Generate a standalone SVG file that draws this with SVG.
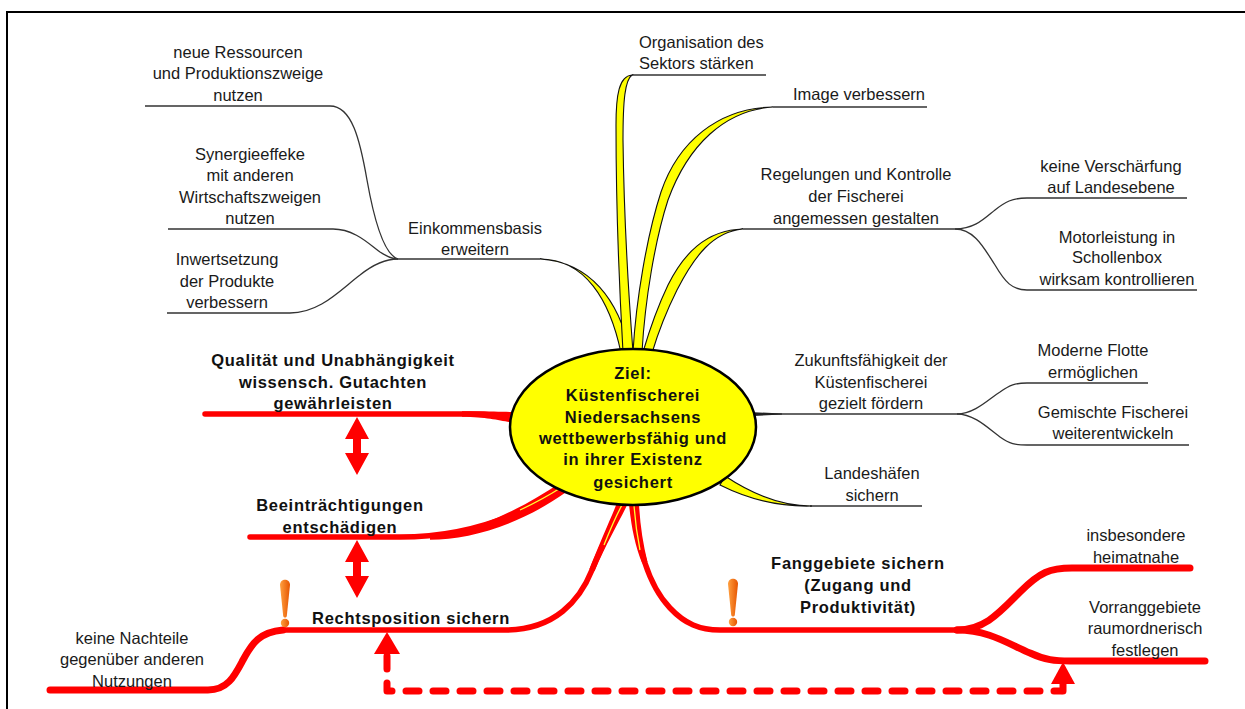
<svg xmlns="http://www.w3.org/2000/svg" width="1245" height="709" viewBox="0 0 1245 709">
<style>
.t{font-family:"Liberation Sans",Arial,sans-serif;font-size:16.5px;fill:#1a1a1a;text-anchor:middle}
.s{text-anchor:start}
.b{font-family:"Liberation Sans",Arial,sans-serif;font-size:16.5px;font-weight:bold;fill:#111;text-anchor:middle;letter-spacing:0.7px}
.ln{fill:none;stroke:#333;stroke-width:1.3}
.leaf{fill:#FFFF00;stroke:#111;stroke-width:1.1}
.red{fill:none;stroke:#FF0000;stroke-width:5.5;stroke-linecap:round;stroke-linejoin:round}
.redk{fill:none;stroke:#FF0000;stroke-width:7;stroke-linecap:round;stroke-linejoin:round}
.tap{fill:#FF0000}
.ys{fill:none;stroke:#FFFF33;stroke-width:1.3}
</style>
<defs>
<linearGradient id="og" x1="0" y1="0" x2="1" y2="0">
<stop offset="0" stop-color="#FFA040"/>
<stop offset="1" stop-color="#E65500"/>
</linearGradient>
<path id="dbl" d="M0,0 L12,22 L4,22 L4,36 L12,36 L0,58 L-12,36 L-4,36 L-4,22 L-12,22 Z" fill="#FF0000"/>
<g id="excl">
<path d="M-5,4 C-5,-3 5,-3 5,4 L1.8,35 C1.2,37 -1.2,37 -1.8,35 Z" fill="url(#og)"/>
<circle cx="0" cy="42" r="4.2" fill="url(#og)"/>
</g>
</defs>
<rect x="7" y="12" width="1250" height="720" fill="#fff" stroke="#000" stroke-width="2"/>

<g id="connectors">
<path class="ln" d="M145,106 L330,106 C352,106 360,140 367,180 C375,225 385,255 398,259"/>
<path class="ln" d="M168,229 L333,229 C355,229 370,245 380,252 C388,257 392,259 398,259"/>
<path class="ln" d="M167,313 L290,313 C320,313 340,290 360,275 C375,263 388,259 398,259"/>
<path class="ln" d="M398,259 L540,259"/>
<path class="ln" d="M632,75 L766,75"/>
<path class="ln" d="M773,107 L927,107"/>
<path class="ln" d="M743,229 L955,229"/>
<path class="ln" d="M955,229 C975,229 985,218 995,210 C1005,202 1012,198 1027,198 L1187,198"/>
<path class="ln" d="M955,229 C975,229 985,250 995,265 C1005,282 1012,290 1027,290 L1197,290"/>
<path class="ln" d="M756,414 L957,414"/>
<path d="M754,412.3 L782,413.4 L782,414.6 L754,416 Z" fill="#222"/>
<path class="ln" d="M957,414 C975,414 990,398 1000,392 C1010,385 1015,383 1027,383 L1148,383"/>
<path class="ln" d="M957,414 C975,414 990,430 1000,437 C1010,444 1015,445 1027,445 L1189,445"/>
<path class="ln" d="M810,506 L922,506"/>
<path class="leaf" d="M540,259 C585,259 610,300 621,353 L630,352 C619,300 590,262 540,259 Z"/>
<path class="leaf" d="M632,75 C619,76 616,95 616,125 C616,220 620,300 623,352 L633,352 C629,300 624,220 623,140 C623,100 625,80 632,75 Z"/>
<path class="leaf" d="M773,107 C718,108 678,142 661,192 C647,235 636,300 633,352 L642,352 C645,300 655,240 668,200 C688,145 725,110 773,107 Z"/>
<path class="leaf" d="M743,229 C705,230 683,255 668,285 C656,310 648,335 643,352 L652,353 C658,333 667,310 677,290 C695,255 713,232 743,229 Z"/>
<path class="leaf" d="M812,506 C780,506 752,494 725,476 L720,485 C748,499 778,507 812,506 Z"/>
<path class="red" d="M205,414 L470,414 C490,414 500,416 514,418"/>
<path class="tap" d="M462,411.3 C490,411 502,412 516,412 L516,423 C500,421 490,417 462,416.7 Z"/>
<path class="red" d="M250,537 L400,537 C460,537 515,520 564,487"/>
<path class="tap" d="M430,534.3 C465,534 510,516 561,482.4 L567,491.6 C520,525 470,539.7 430,539.7 Z"/>
<path class="ys" d="M520,510 C535,503 548,496 562,487"/>
<path class="red" d="M283,630 L505,630 C555,630 580,600 592,570 C603,543 615,520 622,504"/>
<path class="tap" d="M589.4,569 C600,542 611,518 617.4,502 L626.6,506 C619,522 606,544 594.6,571 Z"/>
<path class="ys" d="M604,545 C610,530 616,516 622,505"/>
<path class="red" d="M634,504 C637,545 648,585 670,608 C685,624 700,630 720,630 L957,630"/>
<path class="tap" d="M629,504 C631,525 635,546 642.3,563.6 L647.5,561.9 C643,544 640,524 639,504 Z"/>
<path class="ys" d="M634,505 C635,520 637,535 640,550"/>
<path class="redk" d="M957,630 C985,630 1000,612 1020,592 C1040,572 1050,568 1072,568 L1190,568"/>
<path class="redk" d="M957,630 C990,630 1010,645 1030,653 C1045,660 1055,661 1070,661 L1205,661"/>
<path class="redk" d="M50,690 L208,690 C228,690 235,675 243,660 C252,643 260,632 283,630"/>
<use href="#dbl" x="357" y="417"/>
<use href="#dbl" x="357" y="540"/>
<path d="M387,656 L387,691 L1061,691" fill="none" stroke="#FF0000" stroke-width="7" stroke-linecap="round" stroke-linejoin="round" stroke-dasharray="13 14"/>
<path d="M387,632 L400,654 L374,654 Z" fill="#FF0000"/>
<path d="M1063,662 L1075,684 L1051,684 Z" fill="#FF0000"/>
<path d="M1063,682 L1063,691" stroke="#FF0000" stroke-width="7" stroke-linecap="round"/>
<use href="#excl" x="285" y="581"/>
<use href="#excl" x="733" y="580"/>
</g>

<g id="center">
<ellipse cx="633" cy="427" rx="123" ry="78" fill="#FFFF00" stroke="#000" stroke-width="2.5"/>
<text class="b" x="633" y="379">Ziel:</text>
<text class="b" x="633" y="401">Küstenfischerei</text>
<text class="b" x="633" y="423">Niedersachsens</text>
<text class="b" x="633" y="444">wettbewerbsfähig und</text>
<text class="b" x="633" y="465">in ihrer Existenz</text>
<text class="b" x="633" y="488">gesichert</text>
</g>

<g id="n-ressourcen"><text class="t" x="238" y="58">neue Ressourcen</text><text class="t" x="238" y="79">und Produktionszweige</text><text class="t" x="238" y="101">nutzen</text></g>
<g id="n-synergie"><text class="t" x="250" y="160">Synergieeffeke</text><text class="t" x="250" y="181">mit anderen</text><text class="t" x="250" y="203">Wirtschaftszweigen</text><text class="t" x="250" y="224">nutzen</text></g>
<g id="n-inwert"><text class="t" x="227" y="265">Inwertsetzung</text><text class="t" x="227" y="287">der Produkte</text><text class="t" x="227" y="308">verbessern</text></g>
<g id="n-einkommen"><text class="t" x="475" y="234">Einkommensbasis</text><text class="t" x="475" y="255">erweitern</text></g>
<g id="n-organisation"><text class="t s" x="639" y="48">Organisation des</text><text class="t s" x="639" y="69">Sektors stärken</text></g>
<g id="n-image"><text class="t" x="859" y="100">Image verbessern</text></g>
<g id="n-regelungen"><text class="t" x="856" y="180">Regelungen und Kontrolle</text><text class="t" x="856" y="202">der Fischerei</text><text class="t" x="856" y="224">angemessen gestalten</text></g>
<g id="n-verschaerfung"><text class="t" x="1111" y="172">keine Verschärfung</text><text class="t" x="1111" y="193">auf Landesebene</text></g>
<g id="n-motor"><text class="t" x="1117" y="243">Motorleistung in</text><text class="t" x="1117" y="263">Schollenbox</text><text class="t" x="1117" y="285">wirksam kontrollieren</text></g>
<g id="n-zukunft"><text class="t" x="871" y="366">Zukunftsfähigkeit der</text><text class="t" x="871" y="388">Küstenfischerei</text><text class="t" x="871" y="409">gezielt fördern</text></g>
<g id="n-flotte"><text class="t" x="1093" y="356">Moderne Flotte</text><text class="t" x="1093" y="378">ermöglichen</text></g>
<g id="n-gemischt"><text class="t" x="1113" y="418">Gemischte Fischerei</text><text class="t" x="1113" y="439">weiterentwickeln</text></g>
<g id="n-landeshaefen"><text class="t" x="872" y="479">Landeshäfen</text><text class="t" x="872" y="501">sichern</text></g>
<g id="n-qualitaet"><text class="b" x="333" y="366">Qualität und Unabhängigkeit</text><text class="b" x="333" y="388">wissensch. Gutachten</text><text class="b" x="333" y="409">gewährleisten</text></g>
<g id="n-beeintraechtigungen"><text class="b" x="340" y="511">Beeinträchtigungen</text><text class="b" x="340" y="533">entschädigen</text></g>
<g id="n-rechtsposition"><text class="b" x="411" y="624">Rechtsposition sichern</text></g>
<g id="n-nachteile"><text class="t" x="132" y="644">keine Nachteile</text><text class="t" x="132" y="665">gegenüber anderen</text><text class="t" x="132" y="687">Nutzungen</text></g>
<g id="n-fanggebiete"><text class="b" x="858" y="569">Fanggebiete sichern</text><text class="b" x="858" y="591">(Zugang und</text><text class="b" x="858" y="613">Produktivität)</text></g>
<g id="n-heimatnah"><text class="t" x="1136" y="541">insbesondere</text><text class="t" x="1136" y="563">heimatnahe</text></g>
<g id="n-vorrang"><text class="t" x="1145" y="613">Vorranggebiete</text><text class="t" x="1145" y="634">raumordnerisch</text><text class="t" x="1145" y="656">festlegen</text></g>
</svg>
